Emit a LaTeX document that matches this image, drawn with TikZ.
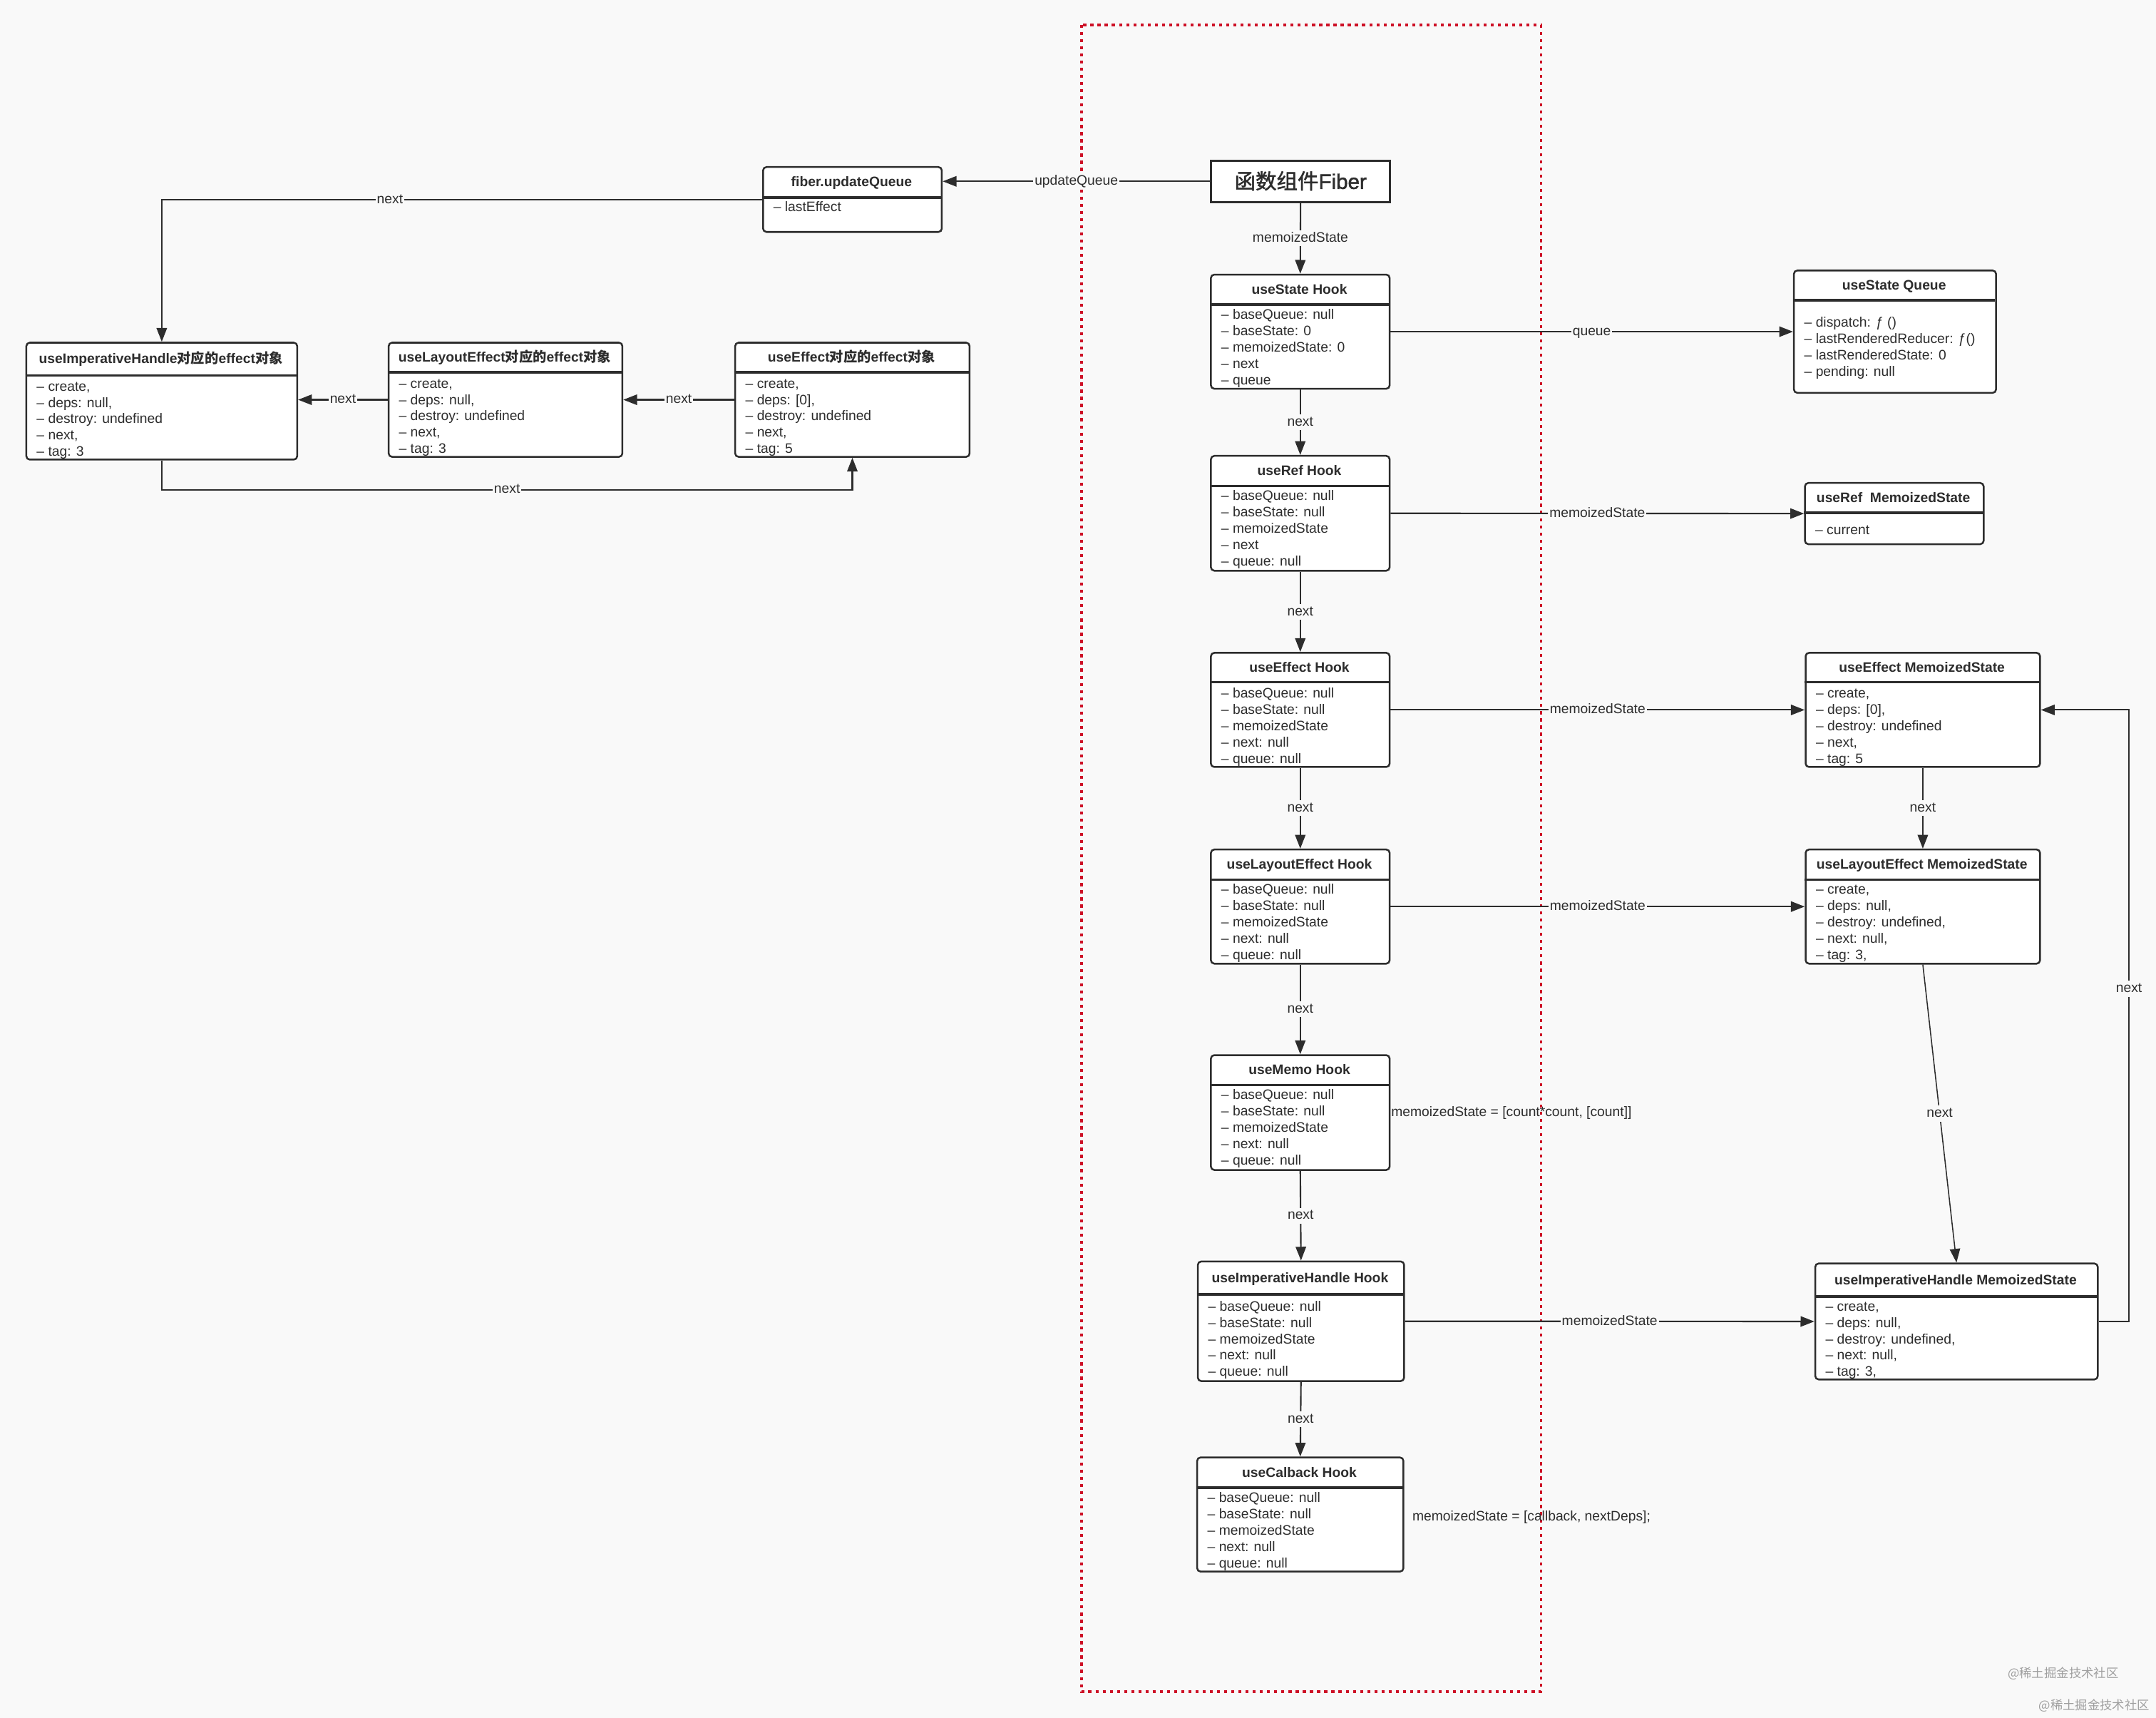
\documentclass[tikz,border=0pt]{standalone}
\usepackage{fontspec}
\setmainfont{Liberation Sans}
\newfontfamily\cjk{Noto Sans CJK SC}
\newfontfamily\fibfont[FakeBold=1.6]{Liberation Sans}
\newfontfamily\fibcjk[FakeBold=1.6]{Noto Sans CJK SC}
\usetikzlibrary{arrows.meta}
\definecolor{bg}{RGB}{249,249,249}
\definecolor{ink}{RGB}{45,45,45}
\definecolor{redline}{RGB}{205,16,38}
\tikzset{
  umlbox/.style={draw=ink, line width=1.3pt, fill=white, rounded corners=2.5pt, inner sep=0pt, anchor=north west},
  ttl/.style={font=\bfseries\fontsize{10}{12}\selectfont, text=ink, inner sep=0pt, text height=7.2pt, text depth=0pt},
  itm/.style={font=\fontsize{10}{12}\selectfont, text=ink, inner sep=0pt, anchor=west, text height=7pt, text depth=0pt},
  lbl/.style={font=\fontsize{10}{12}\selectfont, text=ink, fill=bg, inner sep=1pt, text height=7.5pt, text depth=2pt},
  arr/.style={draw=ink, line width=1.1pt, -{Triangle[length=10pt,width=7.5pt]}},
  divline/.style={draw=ink, line width=1.8pt},
}
\def\itemgap{11.9}
% name, x, y, w, h, divider y, title, first item y, items
\newcommand\umlnode[9]{%
  \node[umlbox, minimum width=#4pt, minimum height=#5pt] (#1) at (#2,#3) {};
  \draw[divline] (#2,#6) -- ({#2+#4},#6);
  \node[ttl] (#1-t) at ({#2+#4/2},{(#3+#6)/2}) {#7};
  \foreach \t [count=\i from 0] in {#9} {\node[itm] (#1-\i) at ({#2+8},{#8+\itemgap*\i}) {\t};}
}
\begin{document}
\begin{tikzpicture}[x=1pt,y=-1pt]
\fill[bg] (0,0) rectangle (1568,1249);
\useasboundingbox (0,0) rectangle (1568,1249);
% red dotted frame
\draw[redline, line width=1.9pt, dash pattern=on 2.2pt off 3pt] (786.6,18.1) rectangle (1120.8,1230);

% function component fiber
\node[draw=ink, line width=1.7pt, fill=white, minimum width=130pt, minimum height=30pt, anchor=north west, inner sep=0pt, text=ink, text height=11pt, text depth=0pt] (fiber) at (880,116) {\fibfont\fontsize{15.3}{18}\selectfont{\fibcjk 函数组件}Fiber};

\umlnode{uq}{554.3}{120.8}{130}{47.2}{143.6}{fiber.updateQueue}{150.4}{{– lastEffect}}

% hooks
\umlnode{hS}{880}{199}{130}{83}{221.3}{useState Hook}{228.5}{{– baseQueue: null},{– baseState: 0},{– memoizedState: 0},{– next},{– queue}}
\umlnode{hR}{880}{330.8}{130}{83.5}{353.5}{useRef Hook}{360.4}{{– baseQueue: null},{– baseState: null},{– memoizedState},{– next},{– queue: null}}
\umlnode{hE}{880}{474}{130}{83}{496}{useEffect Hook}{504}{{– baseQueue: null},{– baseState: null},{– memoizedState},{– next: null},{– queue: null}}
\umlnode{hL}{880}{617}{130}{83}{639.5}{useLayoutEffect Hook}{646.5}{{– baseQueue: null},{– baseState: null},{– memoizedState},{– next: null},{– queue: null}}
\umlnode{hM}{880}{766.5}{130}{83.5}{789}{useMemo Hook}{796}{{– baseQueue: null},{– baseState: null},{– memoizedState},{– next: null},{– queue: null}}
\umlnode{hI}{870.5}{916.5}{150}{87}{941}{useImperativeHandle Hook}{949.6}{{– baseQueue: null},{– baseState: null},{– memoizedState},{– next: null},{– queue: null}}
\umlnode{hC}{870}{1059}{150}{83}{1081.6}{useCalback Hook}{1089}{{– baseQueue: null},{– baseState: null},{– memoizedState},{– next: null},{– queue: null}}

% right side
\umlnode{qS}{1304}{196}{147}{89}{218.3}{useState Queue}{234.4}{{– dispatch: ƒ ()},{– lastRenderedReducer: ƒ()},{– lastRenderedState: 0},{– pending: null}}
\umlnode{mR}{1312}{350.5}{130}{44.5}{372.8}{useRef\ \ MemoizedState}{385}{{– current}}
\umlnode{mE}{1312.5}{474}{170.5}{83}{496}{useEffect MemoizedState}{504}{{– create,},{– deps: [0],},{– destroy: undefined},{– next,},{– tag: 5}}
\umlnode{mL}{1312.5}{617}{170.5}{83}{639.5}{useLayoutEffect MemoizedState}{646.5}{{– create,},{– deps: null,},{– destroy: undefined,},{– next: null,},{– tag: 3,}}
\umlnode{mI}{1319.5}{918}{205.5}{84.3}{942.7}{useImperativeHandle MemoizedState}{949.6}{{– create,},{– deps: null,},{– destroy: undefined,},{– next: null,},{– tag: 3,}}

% left side effect objects
\def\itemgap{11.75}
\umlnode{bI}{18.5}{248.5}{197}{85}{273}{useImperativeHandle{\cjk 对应的}effect{\cjk 对象}}{280.9}{{– create,},{– deps: null,},{– destroy: undefined},{– next,},{– tag: 3}}
\umlnode{bL}{282}{248.5}{170}{83}{270.7}{useLayoutEffect{\cjk 对应的}effect{\cjk 对象}}{278.8}{{– create,},{– deps: null,},{– destroy: undefined},{– next,},{– tag: 3}}
\umlnode{bE}{534}{248.5}{170.5}{83}{270.7}{useEffect{\cjk 对应的}effect{\cjk 对象}}{278.8}{{– create,},{– deps: [0],},{– destroy: undefined},{– next,},{– tag: 5}}

% connectors
\draw[arr] (fiber.west) -- node[lbl]{updateQueue} (uq.east |- fiber.west);
\draw[arr] (fiber.south) -- node[lbl]{memoizedState} (hS.north);
\draw[arr] (hS.south) -- node[lbl]{next} (hR.north);
\draw[arr] (hR.south) -- node[lbl]{next} (hE.north);
\draw[arr] (hE.south) -- node[lbl]{next} (hL.north);
\draw[arr] (hL.south) -- node[lbl]{next} (hM.north);
\draw[arr] (hM.south) -- node[lbl]{next} (hI.north);
\draw[arr] (hI.south) -- node[lbl]{next} (hC.north);

\draw[arr] (hS.east) -- node[lbl]{queue} (qS.west);
\draw[arr] (hR.east) -- node[lbl]{memoizedState} (mR.west);
\draw[arr] (hE.east) -- node[lbl]{memoizedState} (mE.west);
\draw[arr] (hL.east) -- node[lbl]{memoizedState} (mL.west);
\draw[arr] (hI.east) -- node[lbl]{memoizedState} (mI.west);

\draw[arr] (mE.south) -- node[lbl]{next} (mL.north);
\draw[arr, line width=0.8pt] (mL.south) -- node[lbl]{next} (mI.north);
\draw[arr] (mI.east) -- ++(22,0) |- node[lbl, pos=0.272]{next} (mE.east);

\draw[arr] (bL.west) -- node[lbl]{next} (bI.east |- bL.west);
\draw[arr] (bE.west) -- node[lbl]{next} (bL.east |- bE.west);
\draw[arr] (uq.west) -| node[lbl, pos=0.31]{next} (bI.north);
\draw[arr] (bI.south) -- (bI.south |- 0,356) -- node[lbl]{next} (bE.south |- 0,356) -- (bE.south);

% free texts
\node[itm] (memoTxt) at (1011.6,808) {memoizedState = [count*count, [count]]};
\node[itm] (cbTxt) at (1027,1102) {memoizedState = [callback, nextDeps];};

% watermark
\node[font=\cjk\fontsize{9}{10}\selectfont, text=gray!75, inner sep=0pt] (wm1) at (1500.5,1217) {@稀土掘金技术社区};
\node[font=\cjk\fontsize{9}{10}\selectfont, text=gray!75, inner sep=0pt] (wm2) at (1523,1240) {@稀土掘金技术社区};
\end{tikzpicture}
\end{document}
